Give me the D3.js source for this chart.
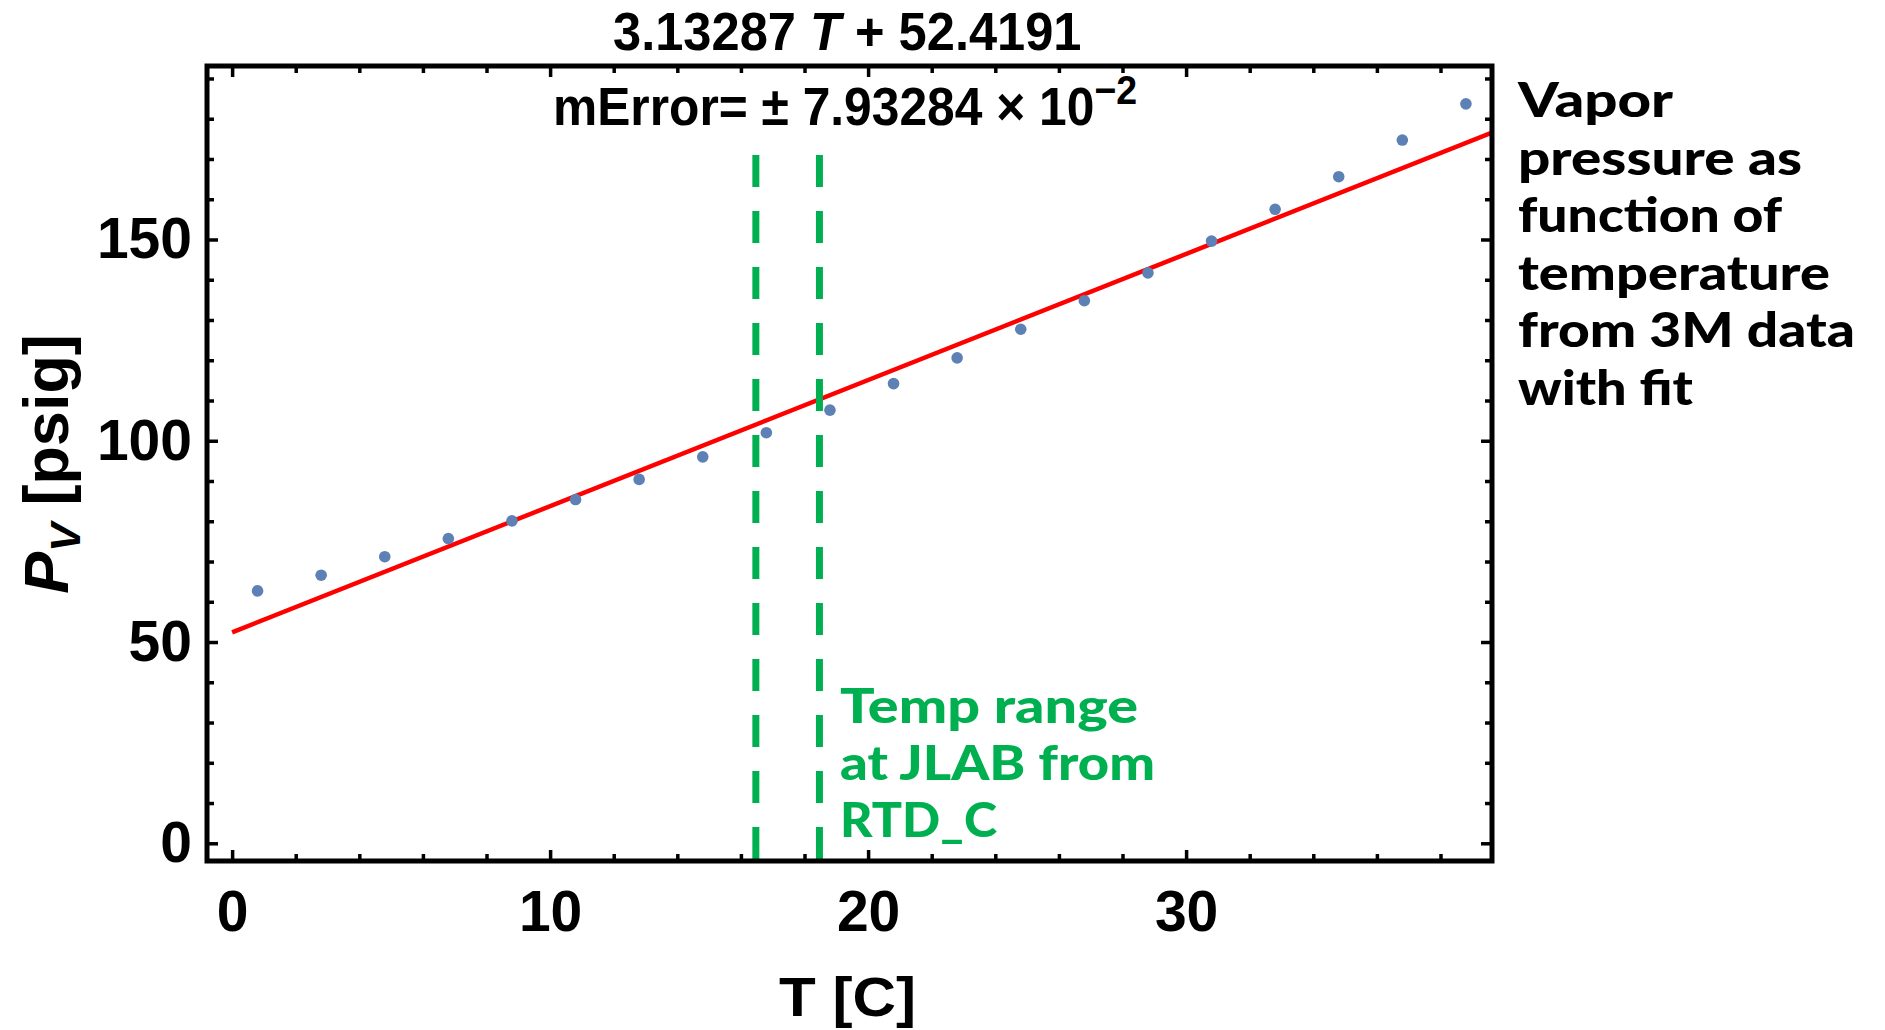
<!DOCTYPE html>
<html>
<head>
<meta charset="utf-8">
<script src="https://cdn.jsdelivr.net/npm/d3@7"></script>
<style>
  body { margin: 0; background: #fff; }
  .tick text { font-family: "Liberation Sans", Arial, sans-serif; font-weight: bold; font-size: 57px; fill: #000; }
  .tick line { stroke: #000; stroke-width: 3.5; }
</style>
</head>
<body>
<div id="svgcontainer"></div>
<script>
// data
var temps = [0.8, 2.8, 4.8, 6.8, 8.8, 10.8, 12.8, 14.8, 16.8, 18.8, 20.8, 22.8, 24.8, 26.8, 28.8, 30.8, 32.8, 34.8, 36.8, 38.8];
var pressures = [62.7, 66.6, 71.2, 75.7, 80.1, 85.4, 90.4, 96.0, 102.0, 107.6, 114.2, 120.6, 127.7, 134.8, 141.7, 149.6, 157.5, 165.6, 174.7, 183.7];
var fitSlope = 3.13287;
var fitIntercept = 52.4191;
var xMajor = [0, 10, 20, 30];
var xMinor = [2, 4, 6, 8, 12, 14, 16, 18, 22, 24, 26, 28, 32, 34, 36, 38];
var yMajor = [0, 50, 100, 150];
var yMinor = [10, 20, 30, 40, 60, 70, 80, 90, 110, 120, 130, 140, 160, 170, 180, 190];
var rangeTemps = [16.47, 18.47];
var rangeTop = 171;
var noteLines = ["Vapor", "pressure as", "function of", "temperature", "from 3M data", "with fit"];
var noteWidths = [155, 284, 264, 312, 337, 175];
var rangeLines = ["Temp range", "at JLAB from", "RTD_C"];
var rangeWidths = [298, 315, 157];

var svgWidth = 1885;
var svgHeight = 1030;
var frame = { left: 207, top: 66, right: 1492, bottom: 861 };

var svg = d3.select("#svgcontainer")
  .append("svg")
  .attr("width", svgWidth)
  .attr("height", svgHeight)
  .style("display", "block");

var xScale = d3.scaleLinear()
  .domain([-0.79, 39.62])
  .range([frame.left, frame.right]);

var yScale = d3.scaleLinear()
  .domain([-4.4, 193.1])
  .range([frame.bottom, frame.top]);

svg.append("clipPath").attr("id", "plotclip")
  .append("rect")
  .attr("x", frame.left).attr("y", frame.top)
  .attr("width", frame.right - frame.left)
  .attr("height", frame.bottom - frame.top);

// ticks (inward, on all four sides like Mathematica's frame)
function ticks(axis, transform) {
  var g = svg.append("g").attr("transform", transform).call(axis);
  g.select(".domain").remove();
  return g;
}
ticks(d3.axisBottom(xScale).tickValues(xMinor).tickSize(-7).tickFormat(""), `translate(0,${frame.bottom})`);
ticks(d3.axisBottom(xScale).tickValues(xMajor).tickSize(-11).tickPadding(30), `translate(0,${frame.bottom})`);
ticks(d3.axisTop(xScale).tickValues(xMinor).tickSize(-7).tickFormat(""), `translate(0,${frame.top})`);
ticks(d3.axisTop(xScale).tickValues(xMajor).tickSize(-11).tickFormat(""), `translate(0,${frame.top})`);
ticks(d3.axisLeft(yScale).tickValues(yMinor).tickSize(-7).tickFormat(""), `translate(${frame.left},0)`);
ticks(d3.axisLeft(yScale).tickValues(yMajor).tickSize(-11).tickPadding(15), `translate(${frame.left},0)`);
ticks(d3.axisRight(yScale).tickValues(yMinor).tickSize(-7).tickFormat(""), `translate(${frame.right},0)`);
ticks(d3.axisRight(yScale).tickValues(yMajor).tickSize(-11).tickFormat(""), `translate(${frame.right},0)`);

var plot = svg.append("g").attr("clip-path", "url(#plotclip)");

// fit line
var fitLine = d3.line()
  .x(d => xScale(d))
  .y(d => yScale(fitSlope * d + fitIntercept));
plot.append("path")
  .datum([0, xScale.domain()[1]])
  .attr("d", fitLine)
  .attr("fill", "none")
  .attr("stroke", "#ff0000")
  .attr("stroke-width", 4.5);

// data points
plot.selectAll("circle")
  .data(temps)
  .enter()
  .append("circle")
  .attr("cx", d => xScale(d))
  .attr("cy", (d, i) => yScale(pressures[i]))
  .attr("r", 5.8)
  .attr("fill", "#5e81b5");

// temperature range markers
plot.selectAll(".range")
  .data(rangeTemps)
  .enter()
  .append("line")
  .attr("x1", d => xScale(d))
  .attr("x2", d => xScale(d))
  .attr("y1", yScale(rangeTop))
  .attr("y2", frame.bottom)
  .attr("stroke", "#00b050")
  .attr("stroke-width", 7)
  .attr("stroke-dasharray", "32,24");

// frame
svg.append("rect")
  .attr("x", frame.left).attr("y", frame.top)
  .attr("width", frame.right - frame.left)
  .attr("height", frame.bottom - frame.top)
  .attr("fill", "none")
  .attr("stroke", "#000")
  .attr("stroke-width", 5);

// titles above the frame (squeezed a little, like the original)
var fitTitle = svg.append("text")
  .attr("transform", "translate(613,50) scale(0.955,1)")
  .style("font-family", "Liberation Sans, Arial, sans-serif")
  .style("font-weight", "bold")
  .style("font-size", "53px");
fitTitle.append("tspan").text(fitSlope + " ");
fitTitle.append("tspan").style("font-style", "italic").text("T");
fitTitle.append("tspan").text(" + " + fitIntercept);

var errTitle = svg.append("text")
  .attr("transform", "translate(553,125) scale(0.938,1)")
  .style("font-family", "Liberation Sans, Arial, sans-serif")
  .style("font-weight", "bold")
  .style("font-size", "53px");
errTitle.append("tspan").text("mError= \u00b1 7.93284 \u00d7 10");
errTitle.append("tspan").attr("dy", -21).style("font-size", "40px").text("\u22122");

// axis titles
svg.append("text")
  .attr("x", 779).attr("y", 1016)
  .attr("textLength", 137)
  .attr("lengthAdjust", "spacingAndGlyphs")
  .style("font-family", "Liberation Sans, Arial, sans-serif")
  .style("font-weight", "bold")
  .style("font-size", "55px")
  .text("T [C]");

var yTitle = svg.append("text")
  .attr("transform", "translate(68,464) rotate(-90)")
  .attr("text-anchor", "middle")
  .style("font-family", "Liberation Sans, Arial, sans-serif")
  .style("font-weight", "bold")
  .style("font-size", "63px");
yTitle.append("tspan").style("font-style", "italic").text("P");
yTitle.append("tspan").attr("dy", 12).style("font-size", "43px").style("font-style", "italic").text("V");
yTitle.append("tspan").attr("dy", -12).text(" [psig]");

// side note
svg.selectAll(".note")
  .data(noteLines)
  .enter()
  .append("text")
  .attr("x", 1518)
  .attr("y", (d, i) => 117 + i * 57.6)
  .attr("textLength", (d, i) => noteWidths[i])
  .attr("lengthAdjust", "spacingAndGlyphs")
  .style("font-family", "Lato, sans-serif")
  .style("font-weight", 900)
  .style("font-size", "48px")
  .attr("fill", "#000")
  .text(d => d);

// range note
svg.selectAll(".rangenote")
  .data(rangeLines)
  .enter()
  .append("text")
  .attr("x", 840)
  .attr("y", (d, i) => 723 + i * 56.8)
  .attr("textLength", (d, i) => rangeWidths[i])
  .attr("lengthAdjust", "spacingAndGlyphs")
  .style("font-family", "Lato, sans-serif")
  .style("font-weight", 900)
  .style("font-size", "47px")
  .attr("fill", "#00b050")
  .text(d => d);
</script>
</body>
</html>
